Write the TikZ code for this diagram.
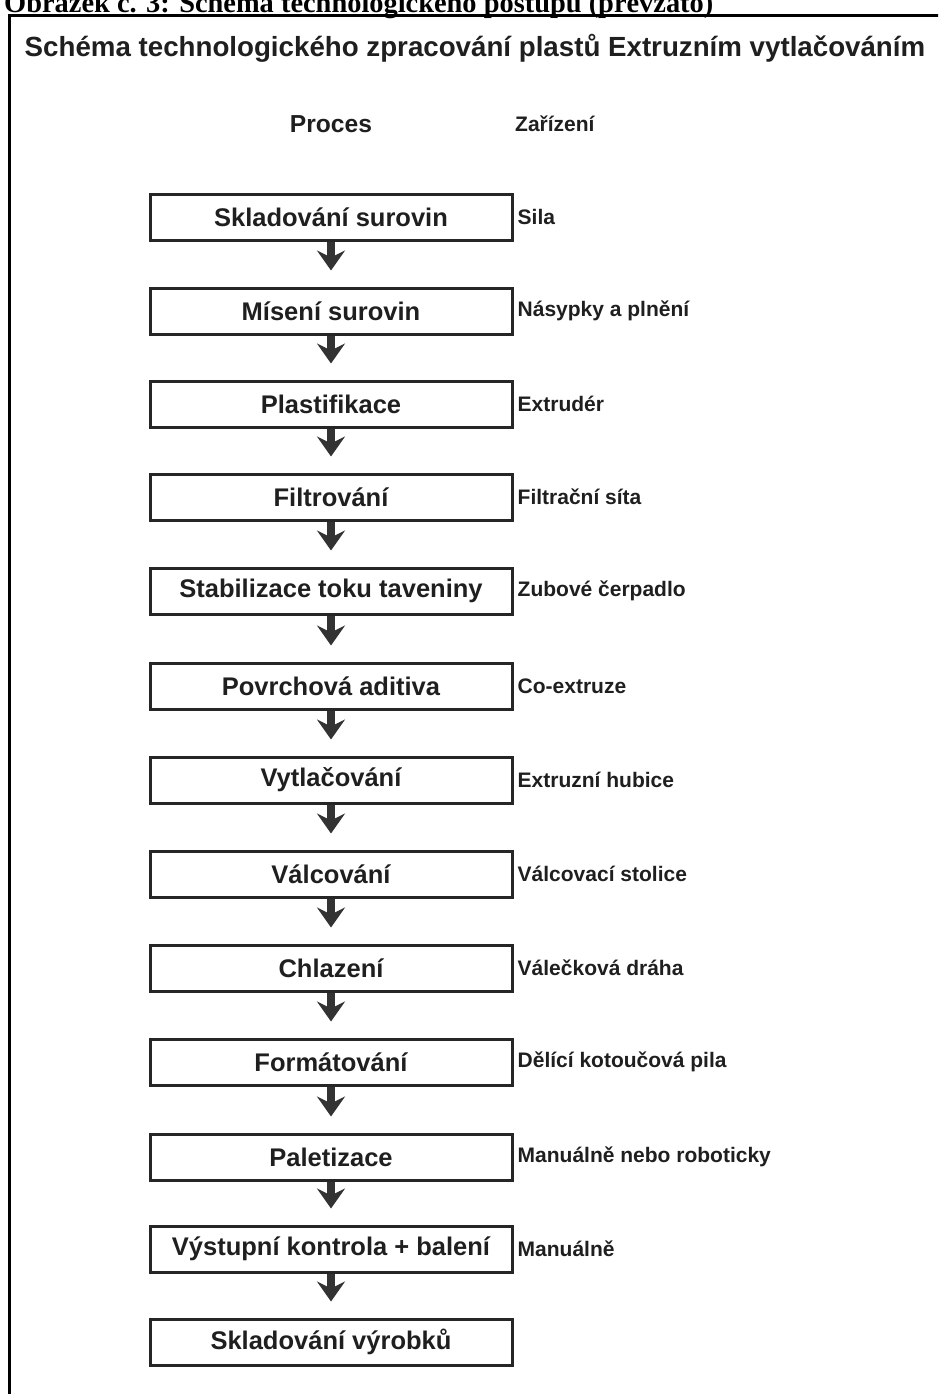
\documentclass[tikz,border=0pt]{standalone}
\usepackage{fontspec}
\setmainfont{Liberation Sans}
\newfontfamily\capfont{Liberation Serif}
\usetikzlibrary{arrows.meta}
\begin{document}
\begin{tikzpicture}[x=1pt,y=-1pt,
  procbox/.style={draw=black!85, line width=3pt, minimum width=362pt, minimum height=46pt, inner sep=0pt,
    font=\bfseries\fontsize{25.5}{28}\selectfont, text=black!88},
  devlabel/.style={anchor=west, inner sep=0pt, font=\bfseries\fontsize{21}{24}\selectfont, text=black!88},
  flow/.style={line width=7.5pt, draw=black!80, -{Stealth[length=20pt,width=28pt,inset=7pt]}, shorten >=16pt}]
\useasboundingbox (0,0) rectangle (938,1394);
\clip (0,0) rectangle (938,1394);
\fill[white] (0,0) rectangle (938,1394);
% caption (cut at the top edge, as in the reference)
\node[anchor=base west, inner sep=0pt, font=\capfont\bfseries\fontsize{28.4}{30}\selectfont] (cap) at (4,13)
  {Obrázek č. 3: Schéma technologického postupu (převzato)};
% frame
\draw[line width=3pt] (9,1400) -- (9,16) -- (945,16);
% headings
\node[inner sep=0pt, font=\bfseries\fontsize{27.7}{30}\selectfont, text=black!88] (title) at (475,48)
  {Schéma technologického zpracování plastů Extruzním vytlačováním};
\node[inner sep=0pt, font=\bfseries\fontsize{24.6}{27}\selectfont, text=black!88] (proc) at (331,124) {Proces};
\node[devlabel] (zar) at (515,124) {Zařízení};
% process boxes
\foreach \i/\y/\t in {1/217/Skladování surovin, 2/311/Mísení surovin, 3/404/Plastifikace,
  4/497/Filtrování, 5/591/Stabilizace toku taveniny, 6/686/Povrchová aditiva, 7/780/Vytlačování,
  8/874/Válcování, 9/968/Chlazení, 10/1062/Formátování, 11/1157/Paletizace,
  12/1249/Výstupní kontrola + balení, 13/1342/Skladování výrobků}
  {\node[procbox] (b\i) at (331,\y) {\t};}
% equipment labels
\foreach \i/\t in {1/Sila, 2/Násypky a plnění, 3/Extrudér, 4/Filtrační síta, 5/Zubové čerpadlo,
  6/Co-extruze, 7/Extruzní hubice, 8/Válcovací stolice, 9/Válečková dráha,
  10/Dělící kotoučová pila, 11/Manuálně nebo roboticky, 12/Manuálně}
  {\node[devlabel] (l\i) at ([xshift=4pt]b\i.east) {\t};}
% arrows
\foreach \i in {1,...,12}{\pgfmathtruncatemacro{\j}{\i+1}\draw[flow] (b\i.south) -- (b\j.north);}
\end{tikzpicture}
\end{document}
